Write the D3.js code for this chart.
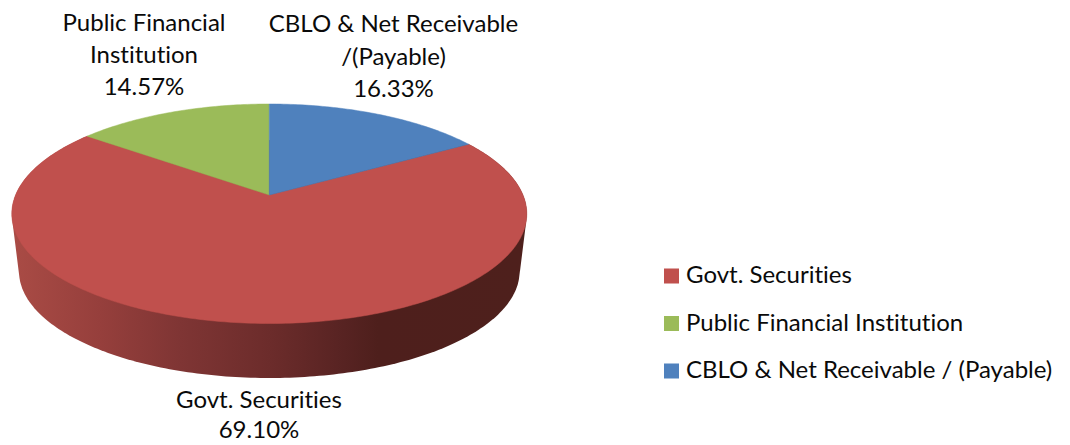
<!DOCTYPE html>
<html>
<head>
<meta charset="utf-8">
<script src="https://cdn.jsdelivr.net/npm/d3@7/dist/d3.min.js"></script>
<style>
  html, body { margin: 0; padding: 0; background: #fff; }
  svg { display: block; }
  text { font-family: Lato, "Open Sans", sans-serif; fill: #0a0a0a; font-variant-ligatures: none; }
</style>
</head>
<body>
<svg id="chart" width="1070" height="445"></svg>
<script>
// Portfolio composition, in percent
const categories = ["Govt. Securities", "Public Financial Institution", "CBLO & Net Receivable / (Payable)"];
const shares = [69.10, 14.57, 16.33];
const colors = ["#c0504d", "#9bbb59", "#4f81bd"];

// Wrapped callout lines for each slice
const calloutLines = [
  ["Govt. Securities", "69.10%"],
  ["Public Financial", "Institution", "14.57%"],
  ["CBLO & Net Receivable", "/(Payable)", "16.33%"]
];
const calloutAnchors = [[259, 408, 30], [144, 31, 32], [393.5, 32, 32.5]];

// Pie disc seen in perspective: plane coordinates map to the page by a projective transform
const disc = { cx: 269.3, cy: 195, topY: 104, bottomY: 323.5, halfWidth: 257.5, depth: 54.5, rimScale: 0.972 };
const persp = (disc.cy * 2 - disc.topY - disc.bottomY) / (disc.topY - disc.bottomY);
const slope = disc.topY * (1 + persp) - disc.cy;
const radius = disc.halfWidth * Math.sqrt(1 - persp * persp);

function project(angle, r = 1) {
  const u = r * Math.sin(angle), v = r * Math.cos(angle);
  const w = 1 + persp * v;
  return [disc.cx + radius * u / w, (disc.cy + slope * v) / w];
}

// Lower rim of the wall: the top rim shrunk slightly and moved down
const rimCentreY = disc.bottomY + disc.depth - (disc.bottomY - disc.topY) / 2 * disc.rimScale;
const topCentreY = (disc.topY + disc.bottomY) / 2;
function projectRim(angle) {
  const [x, y] = project(angle);
  return [disc.cx + (x - disc.cx) * disc.rimScale, rimCentreY + (y - topCentreY) * disc.rimScale];
}

const svg = d3.select("#chart");
const defs = svg.append("defs");

// Slices run clockwise from twelve o'clock, with the CBLO slice ending there
const startAngle = shares[2] / 100 * 2 * Math.PI;
const slices = d3.pie().sort(null).value(d => d).startAngle(startAngle).endAngle(startAngle + 2 * Math.PI)(shares);

const line = d3.line();
function arcSamples(slice, fn) {
  const n = Math.max(8, Math.ceil((slice.endAngle - slice.startAngle) * 60));
  return d3.range(n + 1).map(i => fn(slice.startAngle + (slice.endAngle - slice.startAngle) * i / n));
}

// Side wall, shaded from left to right
const wallShade = d3.scaleLinear()
  .domain([15, 100, 180, 270, 345, 378, 525])
  .range(["#a94b45", "#963f3c", "#7f3534", "#6c2c2b", "#572322", "#4e1f1c", "#4e201c"]);
const gradient = defs.append("linearGradient").attr("id", "wall")
  .attr("gradientUnits", "userSpaceOnUse").attr("x1", 15).attr("x2", 525).attr("y1", 0).attr("y2", 0);
gradient.selectAll("stop").data(wallShade.domain()).join("stop")
  .attr("offset", d => (d - 15) / 510)
  .attr("stop-color", d => wallShade(d));

const wallPoints = d3.polygonHull([...arcSamples(slices[0], project), ...arcSamples(slices[0], projectRim)]);
svg.append("path")
  .attr("d", line(wallPoints) + "Z")
  .attr("fill", "url(#wall)");

// Top faces; a hairline in each slice's own colour closes the seams between them
svg.append("g").selectAll("path").data(slices).join("path")
  .attr("d", d => line([[disc.cx, disc.cy], ...arcSamples(d, project)]) + "Z")
  .attr("fill", (d, i) => colors[i])
  .attr("stroke", (d, i) => colors[i])
  .attr("stroke-width", 0.5);

// Callouts
svg.append("g").selectAll("text").data(calloutLines).join("text")
  .attr("text-anchor", "middle")
  .attr("font-size", 24)
  .each(function (lines, i) {
    const [x, y, step] = calloutAnchors[i];
    d3.select(this).selectAll("tspan").data(lines).join("tspan")
      .attr("x", x)
      .attr("y", (d, j) => y + j * step)
      .text(d => d);
  });

// Legend
const legendY = d3.scalePoint().domain(categories).range([283, 378]);
const legend = svg.append("g").selectAll("g").data(categories).join("g")
  .attr("transform", d => `translate(664,${legendY(d)})`);
legend.append("rect").attr("y", -14.5).attr("width", 15).attr("height", 15)
  .attr("fill", (d, i) => colors[i]);
legend.append("text").attr("x", 22).attr("font-size", 24).text(d => d);
</script>
</body>
</html>
